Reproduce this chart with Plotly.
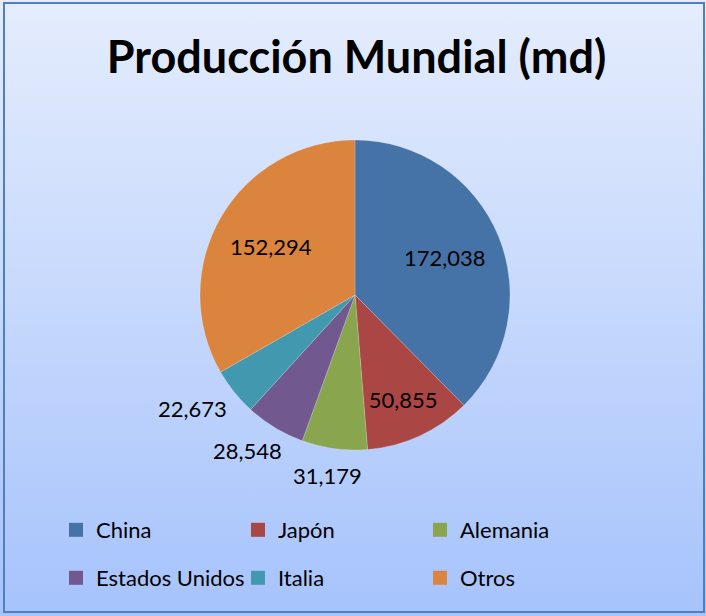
import math
import plotly.graph_objects as go

countries = ["China", "Japón", "Alemania", "Estados Unidos", "Italia", "Otros"]
production = [172038, 50855, 31179, 28548, 22673, 152294]
colors = ["#4572A7", "#AA4643", "#89A54E", "#71588F", "#4198AF", "#DB843D"]
label_mode = ["inside", "fit", "outside", "outside", "outside", "inside"]
title_text = "Producción Mundial (md)"

W, H = 706, 616
FONT = "Lato"
LABEL_SIZE = 22

fig = go.Figure()

# background gradient
fig.add_trace(go.Scatter(
    x=[0, 1, 1, 0, 0], y=[0, 0, 1, 1, 0], mode="lines", fill="toself",
    line=dict(width=0),
    fillgradient=dict(type="vertical", colorscale=[[0, "#A6C3FC"], [1, "#E5EDFD"]]),
    showlegend=False, hoverinfo="skip",
))

cx, cy, R = 355, 295, 155
fig.add_trace(go.Pie(
    labels=countries, values=production,
    marker=dict(colors=colors, line=dict(color="rgba(255,255,255,0.4)", width=0.5)),
    sort=False, direction="clockwise", rotation=0,
    texttemplate="%{value:,.0f}",
    textposition=["inside" if m == "fit" else "none" for m in label_mode],
    insidetextorientation="horizontal",
    textfont=dict(family=FONT, size=LABEL_SIZE, color="black"),
    domain=dict(x=[(cx - R) / W, (cx + R) / W], y=[1 - (cy + R) / H, 1 - (cy - R) / H]),
    showlegend=False, automargin=False,
))

# data labels placed along each slice's mid-angle (Excel style)
total = sum(production)
cum = 0
annotations = []
for v, mode in zip(production, label_mode):
    mid = (cum + v / 2) / total * 2 * math.pi
    cum += v
    if mode == "fit":
        continue
    txt = f"{v:,}"
    sx, sy = math.sin(mid), -math.cos(mid)
    if mode == "inside":
        px = cx + sx * R * 0.63
        py = cy + sy * R * 0.63
    else:
        r = R + 18
        half_w = 0.53 * LABEL_SIZE * len(txt) / 2
        half_h = 9
        px = cx + sx * (r + half_w)
        py = cy + sy * (r + half_h)
    annotations.append(dict(
        text=txt, x=px / W, y=1 - py / H, xref="paper", yref="paper",
        xanchor="center", yanchor="middle", showarrow=False,
        font=dict(family=FONT, size=LABEL_SIZE, color="black"),
    ))

# legend entries (two rows, three columns)
for i, (name, col) in enumerate(zip(countries, colors)):
    fig.add_trace(go.Scatter(
        x=[None], y=[None], mode="markers", name=name,
        marker=dict(symbol="square", size=14, color=col),
        legend="legend" if i < 3 else "legend2",
    ))

legend_common = dict(
    orientation="h", xanchor="left", yanchor="middle",
    font=dict(family=FONT, size=22, color="black"),
    bgcolor="rgba(0,0,0,0)", entrywidth=137, entrywidthmode="pixels",
    itemwidth=30,
)
fig.update_layout(
    width=W, height=H,
    margin=dict(l=0, r=0, t=0, b=0),
    paper_bgcolor="white", plot_bgcolor="rgba(0,0,0,0)",
    xaxis=dict(range=[0, 1], visible=False, domain=[0, 1], fixedrange=True),
    yaxis=dict(range=[0, 1], visible=False, domain=[0, 1], fixedrange=True),
    title=dict(text="<b>" + title_text + "</b>", x=0.505, xanchor="center",
               y=1 - 57 / H, yanchor="middle",
               font=dict(family=FONT, size=45, color="black")),
    legend=dict(x=56 / W, y=1 - 530 / H, **legend_common),
    legend2=dict(x=56 / W, y=1 - 578 / H, **legend_common),
    annotations=annotations,
    shapes=[dict(type="rect", xref="paper", yref="paper",
                 x0=4 / W, x1=704 / W, y0=1 - 612 / H, y1=1 - 3 / H,
                 line=dict(color="#4F7FBD", width=2), fillcolor="rgba(0,0,0,0)")],
    showlegend=True,
)

fig.write_html("out.html", config={"displayModeBar": False},
               post_script="document.body.style.margin='0';")
